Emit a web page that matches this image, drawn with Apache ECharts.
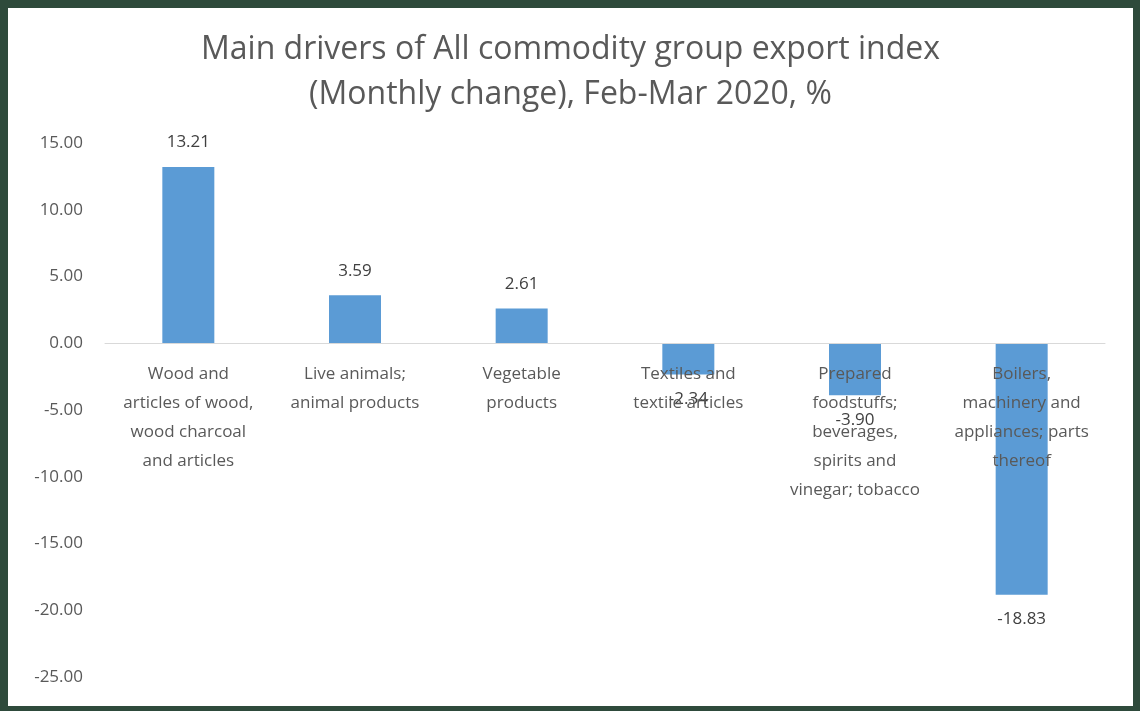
<!DOCTYPE html>
<html>
<head>
<meta charset="utf-8">
<script src="https://cdn.jsdelivr.net/npm/echarts@6/dist/echarts.min.js"></script>
<style>
  html, body { margin: 0; padding: 0; background: #2e4a3b; }
  #echart {
    position: absolute;
    left: 8px;
    top: 8px;
    width: 1125px;
    height: 698px;
    background: #ffffff;
  }
</style>
</head>
<body>
<div id="echart"></div>
<script>
// categories (line breaks as in the original labels)
var categories = [
  'Wood and\narticles of wood,\nwood charcoal\nand articles',
  'Live animals;\nanimal products',
  'Vegetable\nproducts',
  'Textiles and\ntextile articles',
  'Prepared\nfoodstuffs;\nbeverages,\nspirits and\nvinegar; tobacco',
  'Boilers,\nmachinery and\nappliances; parts\nthereof'
];
var changeValues = [13.21, 3.59, 2.61, -2.34, -3.90, -18.83];
var yMin = -25, yMax = 15, yStep = 5;

var textColor = '#595959';
var fontName = 'Open Sans';

var gridTop = 135, gridBottom = 29;
var gridHeight = 698 - gridTop - gridBottom;
// distance of the zero line above the bottom of the grid
var zeroOffset = gridHeight * (0 - yMin) / (yMax - yMin);

var chartDom = document.getElementById('echart');
var myChart = echarts.init(chartDom);

var option = {
  animation: false,
  title: {
    text: 'Main drivers of All commodity group export index\n(Monthly change), Feb-Mar 2020, %',
    left: 'center',
    top: 14,
    textStyle: {
      color: textColor,
      fontFamily: fontName,
      fontWeight: 'normal',
      fontSize: 32,
      lineHeight: 45
    }
  },
  grid: {
    left: 97,
    right: 28,
    top: gridTop,
    bottom: gridBottom,
    containLabel: false,
    outerBoundsMode: 'none'
  },
  xAxis: {
    type: 'category',
    data: categories,
    position: 'bottom',
    offset: -zeroOffset,
    z: 5,
    axisTick: { show: false },
    axisLine: {
      onZero: false,
      lineStyle: { color: '#d9d9d9', width: 1 }
    },
    axisLabel: {
      interval: 0,
      margin: 16,
      color: textColor,
      fontFamily: fontName,
      fontSize: 17,
      lineHeight: 29
    }
  },
  yAxis: {
    type: 'value',
    min: yMin,
    max: yMax,
    interval: yStep,
    axisLine: { show: false },
    axisTick: { show: false },
    splitLine: { show: false },
    axisLabel: {
      margin: 22,
      color: textColor,
      fontFamily: fontName,
      fontSize: 17,
      formatter: function (v) { return v.toFixed(2); }
    }
  },
  series: [
    {
      name: 'change',
      type: 'bar',
      barWidth: 52,
      data: changeValues.map(function (v) {
        return {
          value: v,
          label: { position: v >= 0 ? 'top' : 'bottom' }
        };
      }),
      itemStyle: { color: '#5b9bd5' },
      label: {
        show: true,
        distance: 16,
        color: '#404040',
        fontFamily: fontName,
        fontSize: 17,
        formatter: function (p) { return p.value.toFixed(2); }
      }
    }
  ]
};

myChart.setOption(option);
</script>
</body>
</html>
